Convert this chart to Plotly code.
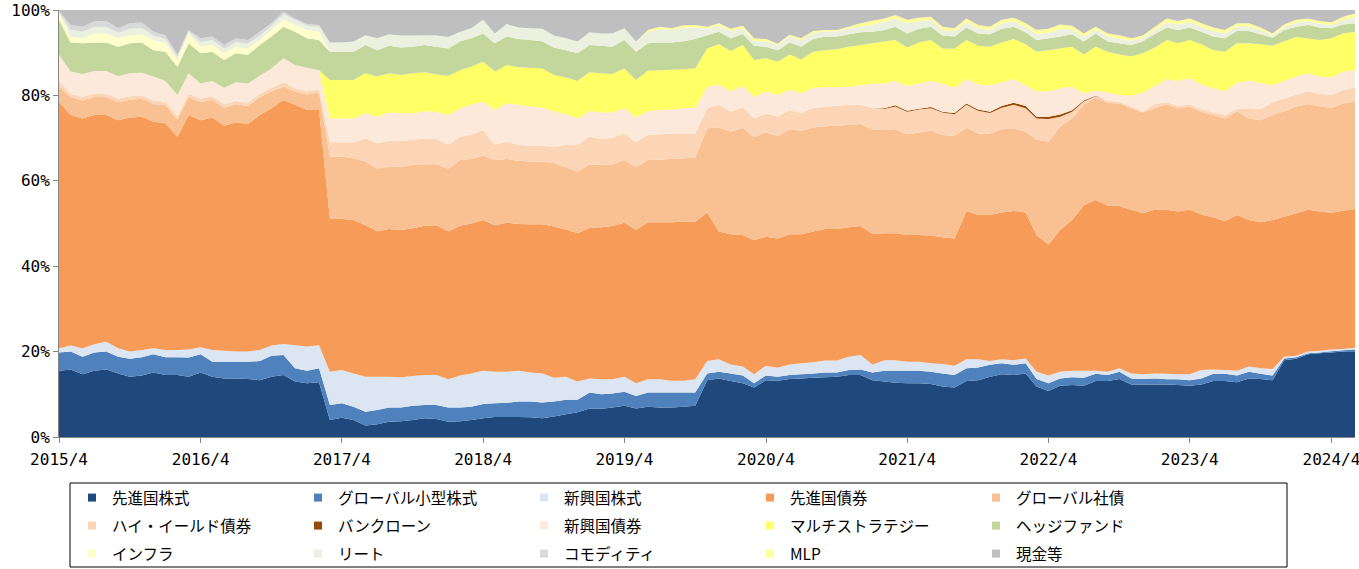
import plotly.graph_objects as go

# Monthly dates 2015/4 .. 2024/6 (111 months)
months = [f"{2015 + (3 + k) // 12}-{(3 + k) % 12 + 1:02d}-01" for k in range(111)]

dev_eq = [15.5, 15.8, 14.7, 15.5, 15.8, 14.9, 14.1, 14.4, 15.1, 14.5,
          14.5, 14.1, 15.1, 14.1, 13.7, 13.7, 13.6, 13.3, 14.1, 14.5,
          13.0, 12.6, 12.8, 4.0, 4.5, 4.0, 2.7, 3.0, 3.6, 3.7,
          4.0, 4.4, 4.2, 3.6, 3.7, 4.0, 4.4, 4.7, 4.7, 4.7,
          4.6, 4.4, 4.8, 5.3, 5.8, 6.7, 6.6, 6.9, 7.3, 6.7,
          7.1, 6.9, 6.9, 7.1, 7.3, 13.3, 13.7, 13.1, 12.6, 11.6,
          13.3, 13.2, 13.6, 13.7, 13.9, 14.0, 14.1, 14.5, 14.5, 13.3,
          13.0, 12.7, 12.6, 12.6, 12.4, 11.8, 11.6, 13.1, 13.3, 14.1,
          14.7, 14.5, 14.9, 11.8, 10.8, 12.0, 12.2, 12.0, 13.1, 13.1,
          13.6, 12.3, 12.3, 12.3, 12.3, 12.2, 12.0, 12.3, 13.1, 13.1,
          12.8, 13.7, 13.6, 13.3, 18.0, 18.3, 19.4, 19.6, 19.8, 20.0, 20.1]

small_cap = [4.3, 4.2, 4.1, 4.3, 4.2, 3.9, 4.2, 4.3, 4.3, 4.2,
             4.2, 4.5, 4.3, 3.5, 3.9, 3.9, 4.0, 4.5, 4.9, 4.7,
             3.1, 2.9, 3.3, 3.5, 3.4, 3.1, 3.2, 3.3, 3.3, 3.2,
             3.3, 3.1, 3.3, 3.3, 3.2, 3.1, 3.3, 3.2, 3.3, 3.6,
             3.7, 3.7, 3.5, 3.4, 2.9, 3.7, 3.4, 3.3, 3.3, 2.9,
             3.3, 3.5, 3.5, 3.3, 3.1, 1.6, 1.6, 1.8, 1.8, 1.0,
             1.1, 0.9, 0.9, 1.0, 1.0, 1.1, 1.0, 1.2, 1.3, 1.8,
             2.5, 2.8, 2.9, 2.9, 2.9, 3.1, 2.9, 3.0, 3.0, 2.8,
             2.6, 2.4, 2.4, 1.8, 1.8, 1.7, 1.8, 1.9, 1.7, 1.4,
             1.7, 1.4, 1.3, 1.4, 1.2, 1.3, 1.3, 1.4, 1.7, 1.7,
             1.6, 1.6, 1.2, 1.1, 0.4, 0.4, 0.2, 0.2, 0.3, 0.3, 0.4]

em_eq = [1.0, 1.4, 2.0, 1.9, 2.3, 2.0, 1.7, 1.7, 1.4, 1.7,
         1.7, 1.9, 1.6, 2.8, 2.6, 2.4, 2.4, 2.6, 2.4, 2.6,
         5.4, 5.7, 5.4, 7.8, 7.8, 7.8, 8.2, 7.8, 7.2, 7.1,
         7.0, 7.0, 7.0, 6.6, 7.5, 7.8, 7.8, 7.4, 7.3, 7.2,
         6.8, 6.8, 5.6, 5.4, 4.3, 3.3, 3.5, 3.3, 3.5, 3.0,
         3.1, 3.1, 2.8, 2.8, 3.1, 2.9, 2.9, 2.1, 2.1, 2.1,
         2.3, 2.1, 2.5, 2.6, 2.6, 2.8, 2.8, 3.1, 3.4, 1.9,
         2.5, 2.5, 2.1, 2.1, 2.0, 2.2, 2.2, 2.1, 1.9, 0.9,
         0.9, 1.1, 1.1, 1.7, 1.8, 1.6, 1.5, 1.6, 0.7, 0.8,
         0.8, 1.2, 1.1, 1.2, 1.3, 1.2, 1.4, 2.0, 1.0, 0.9,
         1.1, 1.2, 1.3, 1.5, 0.4, 0.3, 0.4, 0.4, 0.4, 0.3, 0.4]

dev_bond = [57.7, 54.0, 53.8, 53.7, 53.1, 53.4, 54.8, 54.6, 53.0, 53.1,
            49.9, 54.9, 53.2, 54.4, 52.7, 53.7, 53.3, 55.0, 55.6, 57.1,
            56.3, 55.4, 55.1, 35.9, 35.4, 35.9, 35.5, 34.1, 34.6, 34.5,
            34.6, 35.0, 35.1, 34.7, 35.1, 35.1, 35.3, 34.3, 34.9, 34.4,
            34.7, 34.9, 35.4, 34.5, 34.7, 35.3, 35.6, 35.9, 36.1, 35.9,
            36.8, 36.8, 37.1, 37.2, 36.9, 34.8, 29.9, 30.5, 30.8, 31.4,
            30.2, 30.3, 30.5, 30.2, 30.6, 30.8, 30.8, 30.3, 30.2, 30.6,
            29.7, 29.7, 29.7, 29.7, 29.9, 29.7, 29.8, 34.7, 33.8, 34.2,
            34.4, 34.9, 34.2, 32.0, 30.7, 33.2, 35.3, 38.8, 40.0, 38.9,
            38.0, 38.3, 37.7, 38.3, 38.4, 38.1, 38.5, 36.4, 35.6, 34.9,
            36.5, 34.3, 34.2, 34.9, 32.8, 33.4, 33.2, 32.6, 32.0, 32.4, 32.5]

corp = [3.5, 4.2, 4.2, 4.2, 4.2, 4.2, 4.2, 4.2, 4.2, 4.2,
        4.0, 4.2, 4.2, 4.2, 4.2, 4.2, 4.2, 4.2, 4.0, 3.1,
        3.1, 3.6, 4.1, 14.5, 14.6, 14.5, 14.9, 14.6, 14.6, 14.8,
        14.8, 14.4, 14.3, 14.6, 15.4, 15.1, 15.1, 15.3, 14.9, 14.8,
        14.7, 14.7, 14.8, 14.6, 14.4, 14.9, 14.6, 14.5, 14.7, 14.7,
        14.6, 14.7, 14.8, 14.9, 15.0, 19.7, 24.4, 24.0, 25.1, 24.1,
        24.4, 24.0, 24.6, 24.2, 24.4, 24.1, 24.2, 24.0, 23.9, 24.3,
        24.2, 24.4, 23.6, 24.0, 24.5, 23.9, 24.0, 19.5, 19.1, 19.1,
        19.5, 19.4, 18.9, 22.3, 24.1, 24.2, 23.8, 23.5, 24.0, 24.1,
        24.0, 23.8, 23.6, 23.8, 24.7, 24.2, 24.2, 24.1, 24.0, 24.0,
        24.3, 23.8, 23.9, 24.6, 24.7, 25.0, 24.8, 24.6, 24.6, 25.1, 25.1]

high_yield = [1.5, 0.8, 0.8, 0.8, 0.8, 0.8, 0.8, 0.8, 0.8, 0.8,
              0.8, 0.8, 0.8, 0.8, 0.8, 0.8, 0.8, 0.8, 0.8, 1.1,
              0.8, 0.8, 0.6, 3.3, 3.3, 3.7, 5.4, 6.0, 6.0, 6.0,
              5.9, 6.0, 6.0, 5.6, 5.4, 5.7, 6.0, 3.5, 4.1, 3.7,
              3.7, 3.7, 3.9, 5.2, 6.3, 6.4, 6.1, 6.2, 6.2, 5.8,
              5.8, 5.9, 5.9, 5.8, 5.7, 4.7, 5.3, 4.7, 4.8, 4.4,
              4.5, 4.5, 4.5, 4.1, 4.6, 4.5, 4.7, 4.7, 4.5, 4.9,
              4.9, 5.3, 5.3, 5.4, 5.3, 5.3, 5.1, 5.4, 5.3, 4.8,
              5.0, 5.5, 5.5, 5.0, 5.3, 2.3, 1.6, 0.8, 0.3, 0.4,
              0.4, 0.4, 0.2, 1.0, 0.5, 0.6, 0.4, 0.6, 0.6, 0.8,
              0.5, 2.4, 2.6, 3.0, 3.0, 2.8, 3.0, 3.0, 3.0, 3.2, 3.3]

bank_loan = [0.0] * 69 + [0.1, 0.2, 0.3, 0.2, 0.2, 0.3, 0.2, 0.3, 0.3, 0.3,
                          0.3, 0.4, 0.5, 0.5, 0.4, 0.5, 0.5, 0.3, 0.2, 0.1] + [0.0] * 22

em_bond = [6.0, 5.2, 5.4, 5.3, 5.3, 5.3, 5.4, 5.3, 5.6, 4.9,
           5.0, 4.8, 3.6, 3.6, 3.9, 4.4, 4.5, 4.2, 4.5, 5.6,
           5.4, 5.5, 4.6, 5.6, 5.6, 5.6, 5.9, 6.2, 6.7, 6.5,
           6.2, 6.4, 6.2, 7.0, 6.7, 7.0, 6.6, 8.2, 8.9, 9.4,
           9.2, 8.9, 8.3, 7.2, 6.2, 6.0, 6.2, 5.9, 5.9, 5.8,
           5.6, 5.7, 5.7, 5.9, 6.0, 5.0, 4.7, 4.8, 5.0, 5.1,
           5.1, 5.1, 4.7, 4.7, 4.7, 4.6, 4.3, 4.2, 4.6, 5.8,
           5.8, 5.7, 5.8, 5.9, 6.1, 6.6, 5.9, 5.7, 5.9, 6.1,
           5.6, 5.5, 4.9, 6.0, 5.9, 6.2, 5.5, 1.7, 1.2, 2.0,
           1.6, 2.5, 4.5, 4.2, 5.4, 5.8, 6.2, 5.8, 5.7, 5.6,
           6.1, 6.5, 6.1, 4.0, 4.1, 4.2, 4.2, 4.0, 4.1, 4.3, 4.1]

multi = [0.0] * 23 + [9.0, 9.0, 9.0, 9.4, 9.4, 9.2, 9.0,
                      9.4, 9.1, 8.8, 9.2, 8.9, 8.9, 9.4, 9.0, 9.0, 8.8,
                      9.1, 9.2, 8.5, 8.6, 8.8, 9.1, 9.2, 9.0, 9.3, 8.8,
                      9.5, 9.3, 9.3, 9.2, 9.2, 9.0, 9.5, 9.4, 9.6, 8.6,
                      7.8, 7.8, 8.3, 7.9, 8.4, 8.7, 8.9, 9.4, 9.4, 9.5,
                      9.8, 9.6, 9.0, 9.6, 9.6, 8.2, 9.1, 9.2, 9.0, 9.1,
                      9.3, 9.4, 9.6, 9.2, 9.7, 9.3, 9.4, 9.1, 10.3, 9.5,
                      9.5, 9.2, 9.2, 9.0, 9.2, 8.8, 9.0, 9.4, 8.9, 9.2,
                      9.3, 8.7, 9.1, 9.2, 9.3, 9.3, 8.1, 8.6, 9.2, 8.9, 9.0]

hedge = [8.2, 6.8, 7.2, 6.7, 6.7, 6.9, 7.0, 7.1, 6.2, 6.8,
         6.6, 7.0, 7.1, 6.8, 6.5, 6.8, 6.7, 7.2, 7.5, 7.4,
         7.8, 6.9, 7.1, 6.6, 6.6, 6.6, 6.6, 6.2, 6.4, 6.4,
         6.2, 6.4, 6.5, 6.4, 6.8, 6.7, 6.6, 6.6, 6.7, 6.6,
         6.5, 6.4, 6.4, 6.4, 6.5, 6.4, 6.4, 6.4, 6.7, 6.6,
         6.4, 6.5, 6.4, 6.5, 6.9, 3.1, 2.9, 3.0, 2.6, 3.3,
         2.7, 2.7, 2.8, 3.0, 3.0, 3.2, 3.0, 2.9, 3.0, 2.7,
         2.7, 3.1, 3.3, 3.2, 3.1, 3.0, 2.9, 2.9, 2.9, 2.9,
         3.2, 2.9, 2.8, 2.8, 2.8, 2.8, 2.9, 3.0, 3.1, 2.4,
         2.6, 2.7, 2.8, 3.2, 2.9, 3.1, 2.9, 2.9, 3.2, 3.2,
         2.9, 2.9, 2.3, 1.9, 2.6, 2.4, 3.2, 2.9, 2.3, 2.1, 2.0]

infra = [1.5, 1.4, 1.2, 2.1, 2.1, 2.0, 1.9, 1.9, 2.4, 2.0,
         1.6, 2.3, 1.5, 1.6, 1.6, 1.5, 1.5, 1.2, 1.5, 1.6,
         1.6, 1.9, 1.9] + [0.0] * 88

reit = [0.3, 1.5, 1.5, 1.5, 1.6, 1.3, 1.5, 1.5, 1.0, 1.0,
        0.7, 0.5, 1.1, 1.1, 1.0, 1.1, 1.1, 1.0, 0.9, 1.3,
        1.2, 1.0, 1.2, 2.2, 2.2, 2.4, 2.3, 2.8, 2.7, 2.8,
        2.6, 2.3, 2.6, 2.7, 2.2, 2.3, 3.2, 2.3, 2.9, 2.7,
        2.7, 2.9, 2.8, 2.8, 2.7, 3.0, 2.9, 3.1, 2.7, 2.4,
        2.7, 3.1, 2.9, 3.2, 2.7, 1.5, 1.4, 1.7, 1.3, 1.1,
        1.3, 1.2, 1.4, 1.6, 1.4, 1.2, 1.2, 1.4, 1.3, 1.6,
        2.0, 1.9, 2.4, 1.8, 1.6, 1.3, 1.2, 1.3, 1.2, 1.1,
        1.3, 1.3, 1.3, 1.4, 1.3, 1.7, 1.2, 1.1, 1.0, 1.2,
        1.1, 1.0, 0.8, 1.0, 1.3, 1.3, 1.3, 1.2, 1.3, 1.1,
        1.1, 1.1, 1.0, 0.6, 0.8, 1.0, 0.9, 0.9, 0.8, 1.1, 1.4]

commodity = [0.2, 1.2, 1.2, 1.3, 1.3, 1.0, 1.3, 1.3, 0.9, 0.9,
             0.5, 0.3, 0.9, 0.9, 0.9, 0.9, 0.9, 0.9, 0.7, 0.6,
             0.3, 0.4, 0.4] + [0.0] * 88

mlp = [0.0] * 50 + [0.4, 0.6, 0.4, 0.5, 0.6, 0.5, 0.6, 0.5, 0.6, 0.7,
                    0.5, 0.3, 0.4, 0.4, 0.5, 0.3, 0.3, 0.4, 0.8, 1.0,
                    0.7, 0.8, 0.8, 0.8, 0.7, 0.8, 0.7, 0.8, 0.8, 0.7,
                    0.8, 0.8, 0.8, 0.9, 0.9, 1.1, 0.8, 0.8, 0.6, 0.7,
                    0.8, 0.6, 0.5, 0.7, 0.8, 0.8, 0.8, 0.8, 0.8, 0.8,
                    0.7, 0.7, 0.6, 0.4, 0.5, 0.6, 0.6, 0.6, 0.6, 0.7, 0.9]

cash = [0.3, 3.5, 3.9, 2.7, 2.6, 4.3, 3.1, 2.9, 5.1, 5.9,
        10.5, 4.7, 6.6, 6.2, 8.2, 6.6, 7.0, 5.1, 3.1, 0.4,
        2.0, 3.3, 3.5, 7.6, 7.6, 7.4, 5.9, 6.6, 5.7, 6.0,
        6.0, 5.9, 6.0, 6.3, 5.1, 4.3, 2.3, 5.5, 3.3, 4.1,
        4.3, 4.4, 6.0, 6.6, 7.4, 5.2, 5.5, 5.5, 4.3, 7.4,
        4.7, 3.9, 4.3, 3.6, 3.5, 3.9, 3.1, 4.4, 3.7, 6.6,
        6.8, 7.9, 5.8, 6.6, 4.9, 4.7, 4.7, 3.9, 3.1, 2.5,
        2.0, 1.2, 2.3, 1.8, 1.6, 3.9, 4.3, 2.0, 3.5, 3.9,
        2.3, 1.8, 3.1, 4.7, 4.4, 3.4, 3.7, 5.5, 3.9, 5.5,
        5.9, 6.6, 6.0, 3.9, 2.0, 2.6, 2.0, 3.1, 4.1, 4.7,
        3.1, 3.1, 4.1, 5.5, 3.4, 2.3, 2.0, 2.6, 2.9, 1.6, 0.8]

names = ["先進国株式", "グローバル小型株式", "新興国株式", "先進国債券", "グローバル社債",
         "ハイ・イールド債券", "バンクローン", "新興国債券", "マルチストラテジー", "ヘッジファンド",
         "インフラ", "リート", "コモディティ", "MLP", "現金等"]
series = [dev_eq, small_cap, em_eq, dev_bond, corp,
          high_yield, bank_loan, em_bond, multi, hedge,
          infra, reit, commodity, mlp, cash]
colors = ["#1F497D", "#4F81BD", "#DCE6F2", "#F79B59", "#F9C091",
          "#FBD5B5", "#984807", "#FDE9D9", "#FFFF66", "#C3D69B",
          "#FFFFCC", "#EBF1DE", "#D9D9D9", "#FFFF99", "#BFBFBF"]

y_tick_vals = [0, 20, 40, 60, 80, 100]
y_tick_text = ["0%", "20%", "40%", "60%", "80%", "100%"]

fig = go.Figure()
for idx, (nm, vals, col) in enumerate(zip(names, series, colors)):
    fig.add_trace(go.Scatter(
        x=months, y=vals, name=nm, mode="none", stackgroup="one",
        groupnorm="percent" if idx == 0 else None,
        fillcolor=col, line=dict(width=0), showlegend=False,
        hovertemplate=nm + ": %{y:.1f}%<extra></extra>"))

legend_ids = ["legend", "legend2", "legend3"]
for idx, (nm, col) in enumerate(zip(names, colors)):
    fig.add_trace(go.Scatter(
        x=[None], y=[None], mode="markers", name=nm,
        marker=dict(symbol="square", size=8, color=col),
        legend=legend_ids[idx // 5], showlegend=True, hoverinfo="skip"))

W, H = 1359, 569
L, R, T, B = 59, 4, 10, 132
pw, ph = W - L - R, H - T - B


def px_x(x):
    return (x - L) / pw


def px_y(y):
    return (H - B - y) / ph


tick_font = dict(family="DejaVu Sans Mono, monospace", size=16, color="#000000")
leg_common = dict(orientation="h", xanchor="left", yanchor="middle",
                  traceorder="normal",
                  entrywidth=181, entrywidthmode="pixels",
                  font=dict(family="Noto Sans CJK JP", size=15.5, color="#000000"),
                  bgcolor="rgba(0,0,0,0)", borderwidth=0, itemwidth=30)
row_y = [498, 526, 554]

fig.update_layout(
    width=W, height=H,
    margin=dict(l=L, r=R, t=T, b=B, autoexpand=False),
    paper_bgcolor="white", plot_bgcolor="white",
    font=dict(family="Noto Sans CJK JP", size=14, color="#000000"),
    legend=dict(x=px_x(72), y=px_y(row_y[0]), **leg_common),
    legend2=dict(x=px_x(72), y=px_y(row_y[1]), **leg_common),
    legend3=dict(x=px_x(72), y=px_y(row_y[2]), **leg_common),
    shapes=[dict(type="rect", xref="paper", yref="paper",
                 x0=px_x(70), x1=px_x(1287), y0=px_y(567), y1=px_y(483),
                 line=dict(color="#000000", width=1), fillcolor="rgba(0,0,0,0)")],
    xaxis=dict(type="date", range=[months[0], months[-1]],
               tick0=months[0], dtick="M12", tickformat="%Y/%-m",
               ticks="outside", ticklen=5, tickcolor="#868686",
               showline=True, linecolor="#868686", linewidth=1,
               showgrid=False, zeroline=False, automargin=False,
               ticklabelstandoff=3,
               ticklabeloverflow="allow", tickfont=tick_font),
    yaxis=dict(range=[0, 100], tickmode="array", tickvals=y_tick_vals, ticktext=y_tick_text,
               ticks="outside", ticklen=5, tickcolor="#868686",
               showline=True, linecolor="#868686", linewidth=1,
               showgrid=False, zeroline=False, automargin=False,
               ticklabeloverflow="allow", tickfont=tick_font),
)

fig.write_html("out.html",
               config={"displayModeBar": False},
               post_script="document.body.style.margin='0px';document.body.style.overflow='hidden';")
